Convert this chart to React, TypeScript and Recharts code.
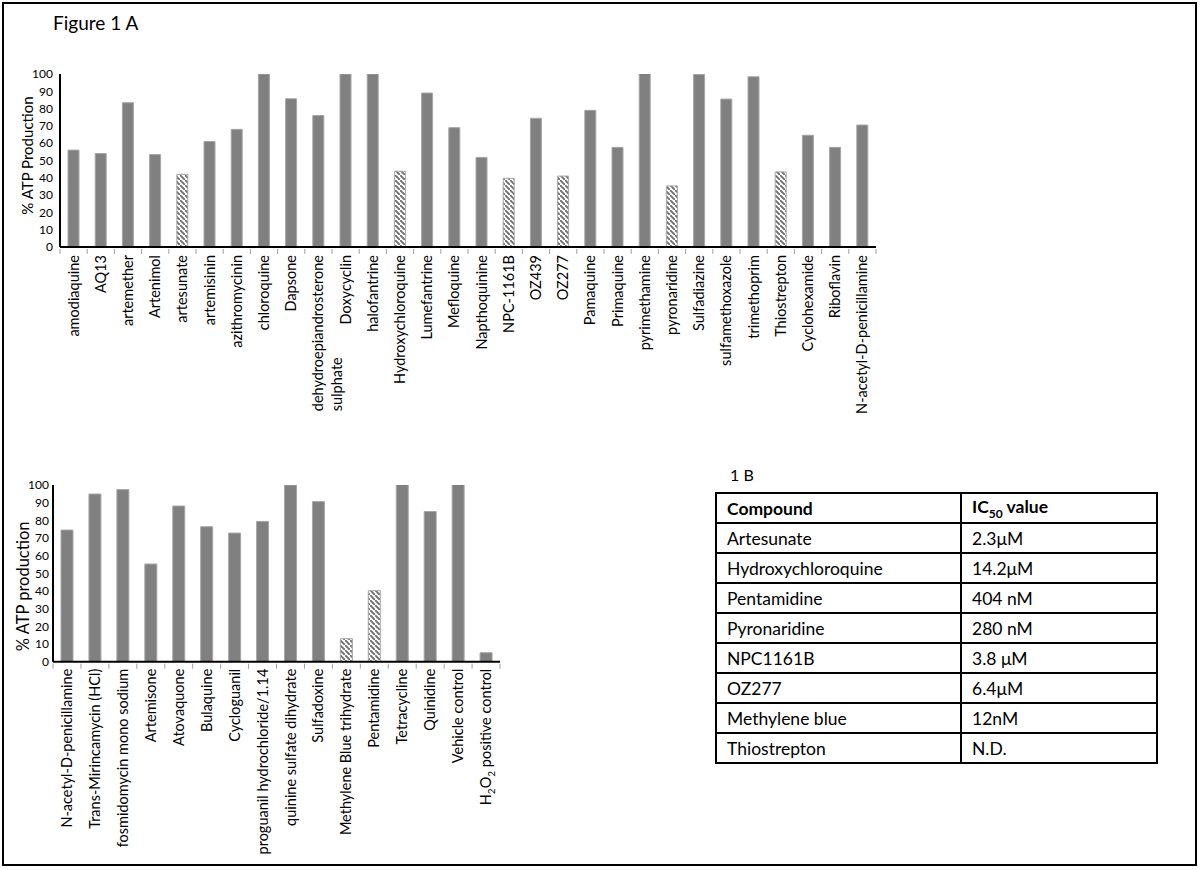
import React from "react";
import { BarChart, Bar, XAxis, YAxis, Cell, Label } from "recharts";

const topCategories = [
  "amodiaquine", "AQ13", "artemether", "Artenimol", "artesunate", "artemisinin",
  "azithromycinin", "chloroquine", "Dapsone", "dehydroepiandrosterone\nsulphate",
  "Doxycyclin", "halofantrine", "Hydroxychloroquine", "Lumefantrine", "Mefloquine",
  "Napthoquinine", "NPC-1161B", "OZ439", "OZ277", "Pamaquine", "Primaquine",
  "pyrimethamine", "pyronaridine", "Sulfadiazine", "sulfamethoxazole", "trimethoprim",
  "Thiostrepton", "Cyclohexamide", "Riboflavin", "N-acetyl-D-penicillamine",
];
const topValues = [
  56, 54, 83.4, 53.5, 42, 61, 68, 100, 85.7, 76, 100, 100, 43.8, 89, 69, 51.8,
  39.7, 74.4, 41, 79, 57.6, 101, 35.3, 99.8, 85.5, 98.4, 43.4, 64.6, 57.6, 70.5,
];
const topHatched = ["artesunate", "Hydroxychloroquine", "NPC-1161B", "OZ277", "pyronaridine", "Thiostrepton"];

const bottomCategories = [
  "N-acetyl-D-penicillamine", "Trans-Mirincamycin (HCl)", "fosmidomycin mono sodium",
  "Artemisone", "Atovaquone", "Bulaquine", "Cycloguanil", "proguanil hydrochloride/1.14",
  "quinine sulfate dihydrate", "Sulfadoxine", "Methylene Blue trihydrate", "Pentamidine",
  "Tetracycline", "Quinidine", "Vehicle control", "H2O2 positive control",
];
const bottomValues = [74.5, 94.9, 97.4, 55.3, 88.1, 76.4, 72.8, 79.4, 100, 90.6, 13, 40.2, 101, 85, 101, 5.1];
const bottomHatched = ["Methylene Blue trihydrate", "Pentamidine"];

const yTicks = [0, 10, 20, 30, 40, 50, 60, 70, 80, 90, 100];

const tableCompounds = ["Artesunate", "Hydroxychloroquine", "Pentamidine", "Pyronaridine", "NPC1161B", "OZ277", "Methylene blue", "Thiostrepton"];
const tableIC50 = ["2.3μM", "14.2μM", "404 nM", "280 nM", "3.8 μM", "6.4μM", "12nM", "N.D."];

const FONT = "Lato, 'Open Sans', sans-serif";
const BAR = "#808080";

const topData = topCategories.map((c, i) => ({ name: c, value: topValues[i] }));
const bottomData = bottomCategories.map((c, i) => ({ name: c, value: bottomValues[i] }));

let measureCtx: CanvasRenderingContext2D | null = null;
function measure(text: string, fontSize: number): number {
  if (typeof document === "undefined") return text.length * fontSize * 0.5;
  if (!measureCtx) {
    const c = document.createElement("canvas");
    measureCtx = c.getContext("2d");
  }
  if (!measureCtx) return text.length * fontSize * 0.5;
  measureCtx.font = `${fontSize}px Lato`;
  return measureCtx.measureText(text).width;
}

function renderLabelText(s: string) {
  const m = s.match(/^H2O2(.*)$/);
  if (m) {
    return [
      <tspan key="a">H</tspan>,
      <tspan key="b" fontSize={10} dy={4}>2</tspan>,
      <tspan key="c" dy={-4}>O</tspan>,
      <tspan key="d" fontSize={10} dy={4}>2</tspan>,
      <tspan key="e" dy={-4}>{m[1]}</tspan>,
    ];
  }
  return s;
}

function makeTick(step: number, n: number, fontSize: number, gap: number) {
  return (props: any) => {
    const { x, y, payload, index } = props;
    const lines = String(payload.value).split("\n");
    const half = step / 2;
    const blockLen = Math.max(...lines.map((ln) => measure(ln, fontSize)));
    const multi = lines.length > 1;
    return (
      <g transform={`translate(${x},${y})`}>
        <line x1={-half} x2={-half} y1={0} y2={5} stroke="#a0a0a0" strokeWidth={1} />
        {index === n - 1 && <line x1={half} x2={half} y1={0} y2={5} stroke="#a0a0a0" strokeWidth={1} />}
        {lines.map((ln, i) => (
          <text
            key={i}
            transform="rotate(-90)"
            x={multi ? -(gap + blockLen) : -gap}
            y={i * (fontSize + 4)}
            dy="0.35em"
            textAnchor={multi ? "start" : "end"}
            fontSize={fontSize}
            fill="#000"
            fontFamily={FONT}
          >
            {renderLabelText(ln)}
          </text>
        ))}
      </g>
    );
  };
}

function yLabel(text: string, fontSize: number, dxShift: number, dyShift: number) {
  return (props: any) => {
    const vb = props.viewBox;
    const cx = vb.x + vb.width / 2 + dxShift;
    const cy = vb.y + vb.height / 2 + dyShift;
    return (
      <text
        x={cx}
        y={cy}
        transform={`rotate(-90, ${cx}, ${cy})`}
        textAnchor="middle"
        dominantBaseline="central"
        fontSize={fontSize}
        fill="#000"
        fontFamily={FONT}
      >
        {text}
      </text>
    );
  };
}

function HatchDefs({ id }: { id: string }) {
  return (
    <defs>
      <pattern id={id} patternUnits="userSpaceOnUse" width={5} height={5}>
        <rect x={0} y={0} width={5} height={5} fill="#fff" />
        <path d="M-1.25,-1.25 L1.25,1.25 M0,0 L5,5 M3.75,3.75 L6.25,6.25" stroke="#707070" strokeWidth={1.9} />
      </pattern>
    </defs>
  );
}

export default function App() {
  const topW = 900;
  const topPlotW = 816;
  const botPlotW = 447;
  return (
    <div
      style={{
        position: "absolute",
        left: 0,
        top: 0,
        width: 1200,
        height: 870,
        background: "#fff",
        fontFamily: FONT,
      }}
    >
      <div
        style={{
          position: "absolute",
          left: 2,
          top: 2,
          width: 1195,
          height: 864,
          border: "2px solid #000",
          boxSizing: "border-box",
        }}
      />
      <div style={{ position: "absolute", left: 53, top: 11, fontSize: 19, color: "#000" }}>Figure 1 A</div>

      <div style={{ position: "absolute", left: 0, top: 0 }}>
        <BarChart
          width={topW}
          height={450}
          data={topData}
          margin={{ top: 74, right: 24, left: 0, bottom: 3 }}
          barSize={11}
        >
          <HatchDefs id="hatchTop" />
          <XAxis
            dataKey="name"
            interval={0}
            height={200}
            tickLine={false}
            tickSize={0}
            axisLine={{ stroke: "#000", strokeWidth: 2 }}
            tick={makeTick(topPlotW / topCategories.length, topCategories.length, 14.5, 6)}
          />
          <YAxis
            width={60}
            domain={[0, 100]}
            allowDataOverflow={true}
            ticks={yTicks}
            interval={0}
            tickLine={false}
            tickSize={0}
            tickMargin={7}
            axisLine={{ stroke: "#000", strokeWidth: 2 }}
            tick={{ fontSize: 12, fill: "#000", fontFamily: FONT }}
          >
            <Label content={yLabel("% ATP Production", 15, -3, -5)} />
          </YAxis>
          <Bar dataKey="value" isAnimationActive={false} stroke="#a6a6a6" strokeWidth={1}>
            {topData.map((d, i) => (
              <Cell key={i} fill={topHatched.includes(d.name) ? "url(#hatchTop)" : BAR} />
            ))}
          </Bar>
        </BarChart>
      </div>

      <div style={{ position: "absolute", left: 0, top: 400 }}>
        <BarChart
          width={520}
          height={470}
          data={bottomData}
          margin={{ top: 85, right: 20, left: 0, bottom: 8 }}
          barSize={12}
        >
          <HatchDefs id="hatchBot" />
          <XAxis
            dataKey="name"
            interval={0}
            height={200.3}
            tickLine={false}
            tickSize={0}
            axisLine={{ stroke: "#000", strokeWidth: 2 }}
            tick={makeTick(botPlotW / bottomCategories.length, bottomCategories.length, 14.5, 5)}
          />
          <YAxis
            width={53}
            domain={[0, 100]}
            allowDataOverflow={true}
            ticks={yTicks}
            interval={0}
            tickLine={false}
            tickSize={0}
            tickMargin={4}
            axisLine={{ stroke: "#000", strokeWidth: 2 }}
            tick={{ fontSize: 12, fill: "#000", fontFamily: FONT }}
          >
            <Label content={yLabel("% ATP production", 16.5, -3.5, 13)} />
          </YAxis>
          <Bar dataKey="value" isAnimationActive={false} stroke="#a6a6a6" strokeWidth={1}>
            {bottomData.map((d, i) => (
              <Cell key={i} fill={bottomHatched.includes(d.name) ? "url(#hatchBot)" : BAR} />
            ))}
          </Bar>
        </BarChart>
      </div>

      <div style={{ position: "absolute", left: 730, top: 465, fontSize: 16, color: "#000" }}>1 B</div>

      <table
        style={{
          position: "absolute",
          left: 715,
          top: 492,
          width: 443,
          borderCollapse: "collapse",
          fontSize: 17.5,
          color: "#000",
          fontFamily: FONT,
        }}
      >
        <tbody>
          <tr style={{ height: 30 }}>
            <td style={{ border: "2px solid #000", padding: "0 10px", width: 223, fontWeight: "bold" }}>Compound</td>
            <td style={{ border: "2px solid #000", padding: "0 10px", fontWeight: "bold" }}>
              IC<sub style={{ fontSize: 12 }}>50</sub> value
            </td>
          </tr>
          {tableCompounds.map((c, i) => (
            <tr key={c} style={{ height: 30 }}>
              <td style={{ border: "2px solid #000", padding: "0 10px" }}>{c}</td>
              <td style={{ border: "2px solid #000", padding: "0 10px" }}>{tableIC50[i]}</td>
            </tr>
          ))}
        </tbody>
      </table>
    </div>
  );
}
